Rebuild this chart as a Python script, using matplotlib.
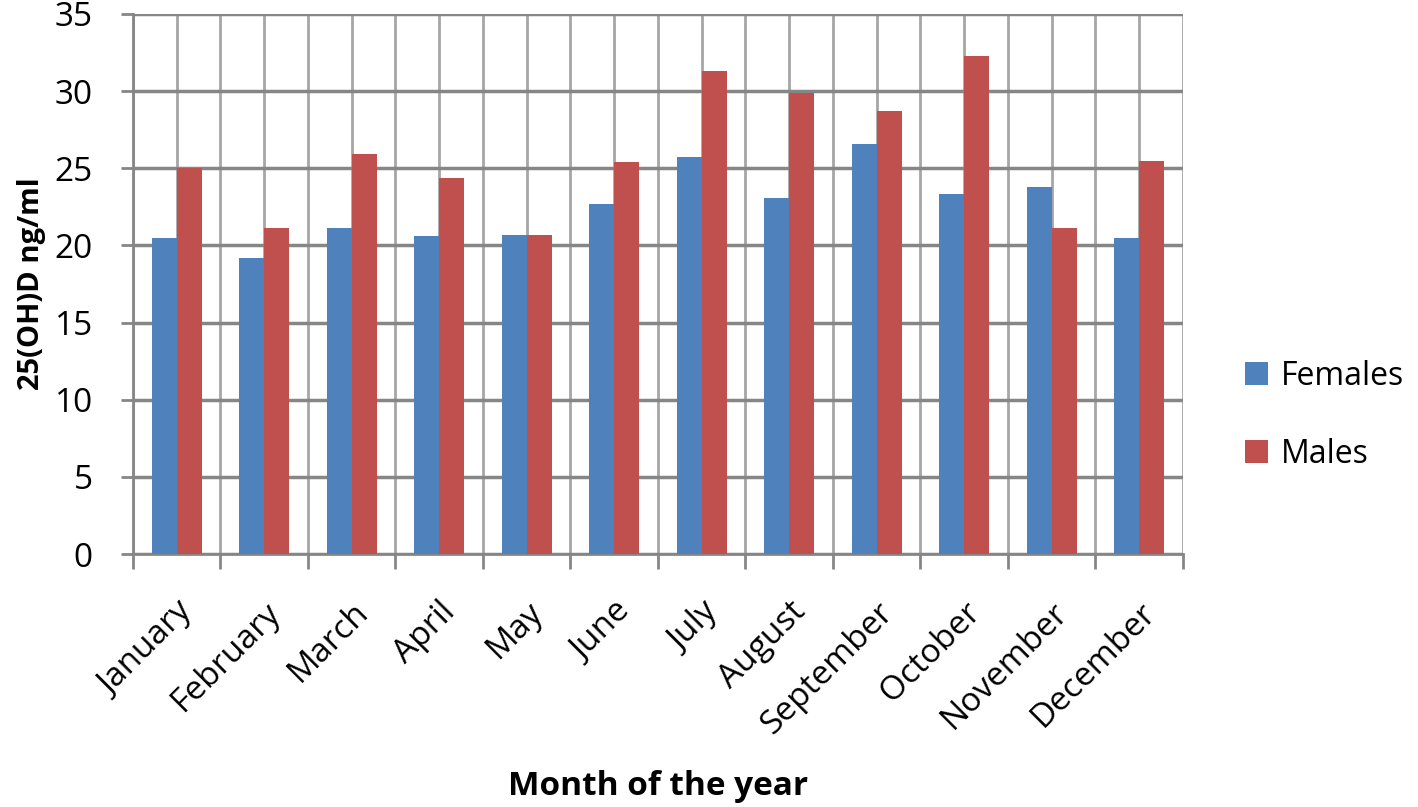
import numpy as np
import matplotlib.pyplot as plt
from matplotlib.ticker import FixedLocator, NullFormatter

months = ["January", "February", "March", "April", "May", "June", "July",
          "August", "September", "October", "November", "December"]
females = [20.5, 19.2, 21.1, 20.6, 20.7, 22.7, 25.7, 23.1, 26.6, 23.3, 23.8, 20.5]
males = [25.0, 21.1, 25.9, 24.4, 20.7, 25.4, 31.3, 29.9, 28.7, 32.3, 21.1, 25.5]

plt.rcParams['font.family'] = ['Open Sans', 'DejaVu Sans']

fig = plt.figure(figsize=(14.18, 8.07), dpi=100)
ax = fig.add_axes([0.0938, 0.3135, 0.7404, 0.6692])

x = np.arange(len(months))
w = 1 / 3.5
ax.bar(x - w / 2, females, width=w, color="#4F81BD", label="Females", zorder=3)
ax.bar(x + w / 2, males, width=w, color="#C0504D", label="Males", zorder=3)

ax.set_xlim(-0.5, len(months) - 0.5)
ax.set_ylim(0, 35)
ax.set_yticks(np.arange(0, 36, 5))

# boundaries: tick marks + gridlines; centers: labels + gridlines
ax.xaxis.set_major_locator(FixedLocator(np.arange(-0.5, len(months), 1)))
ax.xaxis.set_major_formatter(NullFormatter())
ax.xaxis.set_minor_locator(FixedLocator(x))
ax.set_xticklabels(months, minor=True, rotation=45, ha="right",
                   rotation_mode="anchor", fontsize=24)
ax.tick_params(axis="x", which="major", length=11, width=2, color="#868686")
ax.tick_params(axis="x", which="minor", length=0, pad=30)
ax.tick_params(axis="y", length=9, width=2, color="#868686", labelsize=24, pad=20)

ax.grid(True, which="both", axis="x", color="#A6A6A6", linewidth=2, zorder=0)
ax.grid(True, which="major", axis="y", color="#868686", linewidth=2.5, zorder=0)

for s in ["top", "right"]:
    ax.spines[s].set_visible(False)
for s in ["left", "bottom"]:
    ax.spines[s].set_color("#868686")
    ax.spines[s].set_linewidth(2)

ax.set_ylabel("25(OH)D ng/ml", fontsize=21, fontweight="bold", labelpad=6)
fig.text(0.464, 0.025, "Month of the year", fontsize=24, fontweight="bold",
         ha="center", va="center")

ax.legend(loc="center left", bbox_to_anchor=(1.032, 0.257), frameon=False,
          fontsize=23, handlelength=0.7, handleheight=0.7, labelspacing=1.4,
          handletextpad=0.4)

fig.savefig("out.png", dpi=100)
